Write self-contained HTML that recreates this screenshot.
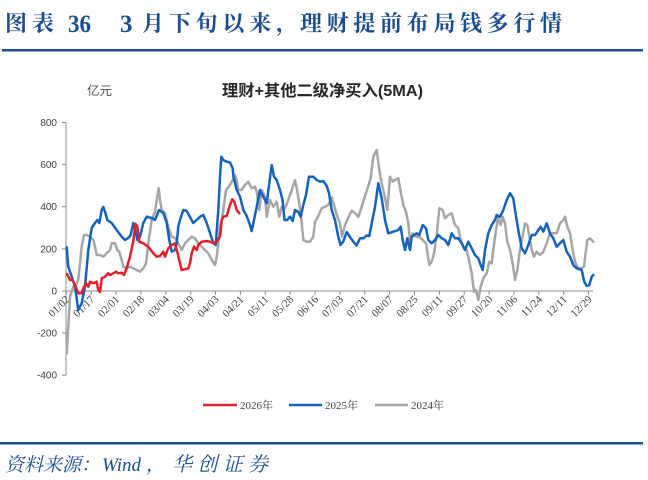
<!DOCTYPE html>
<html>
<head>
<meta charset="utf-8">
<style>
  html,body{margin:0;padding:0;background:#fff;}
  body{width:648px;height:480px;overflow:hidden;}
  svg{display:block;}
</style>
</head>
<body>
<svg width="648" height="480" viewBox="0 0 648 480" xmlns="http://www.w3.org/2000/svg">
  <rect x="0" y="0" width="648" height="480" fill="#ffffff"/>

  <!-- Title -->
  <g fill="#1b4d8e" font-weight="bold">
    <text x="5" y="31" font-size="22" font-family="'Noto Serif CJK SC','Liberation Serif',serif" textLength="49" lengthAdjust="spacing">图表</text>
    <text x="68" y="32" font-size="25" font-family="'Liberation Serif',serif" textLength="23" lengthAdjust="spacingAndGlyphs">36</text>
    <text x="120" y="32" font-size="25" font-family="'Liberation Serif',serif">3</text>
    <text x="142" y="31" font-size="22" font-family="'Noto Serif CJK SC','Liberation Serif',serif" textLength="156" lengthAdjust="spacing">月下旬以来，</text>
    <text x="300" y="31" font-size="22" font-family="'Noto Serif CJK SC','Liberation Serif',serif" textLength="262" lengthAdjust="spacing">理财提前布局钱多行情</text>
  </g>
  <rect x="2" y="49" width="641" height="2.5" fill="#1f4f8f"/>

  <!-- Chart header -->
  <text x="87" y="95" font-size="12.5" fill="#505050" font-family="'Liberation Sans','Noto Sans CJK SC',sans-serif">亿元</text>
  <text x="222" y="96" font-size="16" font-weight="bold" fill="#262626" font-family="'Liberation Sans','Noto Sans CJK SC',sans-serif" textLength="201" lengthAdjust="spacingAndGlyphs">理财+其他二级净买入(5MA)</text>

  <!-- Axes -->
  <g stroke="#8c8c8c" stroke-width="1" fill="none">
    <line x1="66" y1="122.5" x2="66" y2="375.2"/>
    <line x1="66" y1="291" x2="593" y2="291"/>
    <line x1="62" y1="122.5" x2="66" y2="122.5"/>
    <line x1="62" y1="164.6" x2="66" y2="164.6"/>
    <line x1="62" y1="206.7" x2="66" y2="206.7"/>
    <line x1="62" y1="248.9" x2="66" y2="248.9"/>
    <line x1="62" y1="291" x2="66" y2="291"/>
    <line x1="62" y1="333.1" x2="66" y2="333.1"/>
    <line x1="62" y1="375.2" x2="66" y2="375.2"/>
    <line x1="66.3" y1="291" x2="66.3" y2="295"/>
    <line x1="91.2" y1="291" x2="91.2" y2="295"/>
    <line x1="116.0" y1="291" x2="116.0" y2="295"/>
    <line x1="140.9" y1="291" x2="140.9" y2="295"/>
    <line x1="165.8" y1="291" x2="165.8" y2="295"/>
    <line x1="190.7" y1="291" x2="190.7" y2="295"/>
    <line x1="215.5" y1="291" x2="215.5" y2="295"/>
    <line x1="240.4" y1="291" x2="240.4" y2="295"/>
    <line x1="265.3" y1="291" x2="265.3" y2="295"/>
    <line x1="290.1" y1="291" x2="290.1" y2="295"/>
    <line x1="315.0" y1="291" x2="315.0" y2="295"/>
    <line x1="339.9" y1="291" x2="339.9" y2="295"/>
    <line x1="364.7" y1="291" x2="364.7" y2="295"/>
    <line x1="389.6" y1="291" x2="389.6" y2="295"/>
    <line x1="414.5" y1="291" x2="414.5" y2="295"/>
    <line x1="439.4" y1="291" x2="439.4" y2="295"/>
    <line x1="464.2" y1="291" x2="464.2" y2="295"/>
    <line x1="489.1" y1="291" x2="489.1" y2="295"/>
    <line x1="514.0" y1="291" x2="514.0" y2="295"/>
    <line x1="538.8" y1="291" x2="538.8" y2="295"/>
    <line x1="563.7" y1="291" x2="563.7" y2="295"/>
    <line x1="588.6" y1="291" x2="588.6" y2="295"/>
  </g>

  <!-- y labels -->
  <g font-family="'Liberation Sans',sans-serif" font-size="10" fill="#404040" text-anchor="end">
    <text x="57" y="126">800</text>
    <text x="57" y="168">600</text>
    <text x="57" y="210">400</text>
    <text x="57" y="252.5">200</text>
    <text x="57" y="294.5">0</text>
    <text x="57" y="336.5">-200</text>
    <text x="57" y="378.5">-400</text>
  </g>

  <!-- x labels -->
  <g font-family="'Liberation Serif',serif" font-size="11" fill="#404040" text-anchor="end">
    <text transform="translate(70.3,300) rotate(-45)">01/02</text>
    <text transform="translate(95.2,300) rotate(-45)">01/17</text>
    <text transform="translate(120.0,300) rotate(-45)">02/01</text>
    <text transform="translate(144.9,300) rotate(-45)">02/18</text>
    <text transform="translate(169.8,300) rotate(-45)">03/04</text>
    <text transform="translate(194.7,300) rotate(-45)">03/19</text>
    <text transform="translate(219.5,300) rotate(-45)">04/03</text>
    <text transform="translate(244.4,300) rotate(-45)">04/21</text>
    <text transform="translate(269.3,300) rotate(-45)">05/11</text>
    <text transform="translate(294.1,300) rotate(-45)">05/28</text>
    <text transform="translate(319.0,300) rotate(-45)">06/16</text>
    <text transform="translate(343.9,300) rotate(-45)">07/03</text>
    <text transform="translate(368.7,300) rotate(-45)">07/21</text>
    <text transform="translate(393.6,300) rotate(-45)">08/07</text>
    <text transform="translate(418.5,300) rotate(-45)">08/25</text>
    <text transform="translate(443.4,300) rotate(-45)">09/11</text>
    <text transform="translate(468.2,300) rotate(-45)">09/27</text>
    <text transform="translate(493.1,300) rotate(-45)">10/20</text>
    <text transform="translate(518.0,300) rotate(-45)">11/06</text>
    <text transform="translate(542.8,300) rotate(-45)">11/24</text>
    <text transform="translate(567.7,300) rotate(-45)">12/11</text>
    <text transform="translate(592.6,300) rotate(-45)">12/29</text>
  </g>

  <!-- Series: 2024 gray -->
  <polyline fill="none" stroke="#a6a6a6" stroke-width="2.5" stroke-linejoin="round" stroke-linecap="round" points="
66.7,353.3 68.3,326.7 70,296.7 73.3,286.7 76,285 78.3,280 80,263.3 81.7,246.7 84,235 86.7,235 90,236.7 93.3,240 95,246.7 96.7,255 100,255 103.3,256.7 106.7,253.3 110,250 111.7,243.3 115,243.3 117.3,250 119.3,251.7 121.7,260 123.3,266.7 126.7,268.3 130,266.7 133.3,268.3 136.7,270 140,271.7 143.3,268.3 146,263.3 148.3,243.3 151.7,220 155,211.7 157.3,196.7 158.7,188.3 160,200 161.7,210 165,213.3 168.3,226.7 171.7,236.7 175,238 178.3,243.3 181.7,250 185,243.3 188.3,240 191.7,236.7 195,238.3 198.3,243.3 201.7,246.7 205,250 208.3,253.3 211.7,260 215,265 216.7,256.7 218.3,243.3 220,226.7 221.7,220 223.3,210 226,190 230,185 232.7,180 235,175 236.7,180 238.3,190 241.7,190 245,185 248.3,181.7 251.7,188.3 255,186.7 256.7,191.7 259.3,210 261.7,190 265,196.7 266.7,216.7 270,200 273.3,206.7 276.7,201.7 279.3,216.7 281.7,206.7 285,208.3 288.3,200 291.7,190 295,180 296.7,188.3 299.3,203.3 301.7,222 303.3,240 306.7,241.7 310,241.7 313.3,236.7 315,222 318.3,216 321.7,208.3 325,206.7 328.3,205 331.7,197.5 334,205 336.7,215 340,223.3 342,236.7 345,225 348.3,217.5 351.7,210.5 355,213.3 358.3,216.7 361.7,206.7 365,196 368.3,186 370.7,178 373.3,156.7 376.7,150 379.3,170 381.7,183.3 385,198 387.3,210 390,176.7 392.7,181.7 395,180 398.3,178.3 400.7,191.7 403.3,205 406,211.7 408.3,223.3 410,241.7 412.7,233.3 416,236.7 419.3,236.7 422.7,240 426,243.3 429.3,265 431.7,261.7 434,253.3 436.7,235 439.3,208.3 442.7,210 445,218.3 448.3,215 451.7,213.3 455,225 458.3,228.3 460.7,240 463.3,246.7 466.7,250 469.3,261.7 471.7,273.3 474,291.7 476,290 478.3,300 480.7,286.7 483.3,278.3 486.7,273.3 489.3,261.7 491.7,263.3 493.3,250 496,230 498.3,216.7 500.7,225 502.7,216.7 505,223.3 507.3,241.7 510,250 512.7,263.3 515,280 517.3,270 520,250 522.7,236.7 525,223.3 527.3,225 529.3,236.7 531.7,250 534,256.7 536.7,251.7 540,255 543.3,251.7 546.7,243.3 550,233.3 553.3,233.3 556.7,233.3 560,223.3 563.3,220 565,216.7 567.3,226.7 570,233.3 572.7,250 575,261.7 578.3,268.3 581.7,268.3 584,266.7 586,250 587.3,240 590,238.3 593.3,241.7"/>

  <!-- Series: 2025 blue -->
  <polyline fill="none" stroke="#1562bd" stroke-width="2.5" stroke-linejoin="round" stroke-linecap="round" points="
66.7,247.3 68.3,266.7 71.7,276.7 75,286.7 78.3,310 81.7,303 85,286.7 88.3,250 91.7,228 95,223 97.3,220 99.3,223 101.7,210 103.3,207 105,211.7 107.3,220 111.7,223 116.7,230 121.7,236.7 125,240 128.3,238 130.7,235 133.3,223 136,233 137.3,240 140,236.7 143.3,223 146.7,216.7 151.7,218 155,220 159,210 163.3,213 166.7,223 169.3,240 171.7,251.7 175,250 176.7,243 178.3,226.7 180,220 183.3,210 186.7,211 190,217 193.3,223 196.7,220 200,216.7 203.3,215 206.7,223 210,233 213.3,243 215.7,245 218.3,210 220,176.7 221.3,156.7 223.3,160 226.7,161.7 230,162.5 232.7,168.3 233.5,176.7 236.7,190 240,196.7 243.3,210 246.7,216 250,225 251.7,231 254,220 256.7,206.7 260,190 263.3,196.7 266.7,203.3 269.3,183.3 271.7,165 274,176.7 276.7,180 280,190 282.5,200 284.5,220 287.3,220 290,216.7 292.7,221 295,210 298.3,212 300.7,216.7 303.3,205 306,195 309,176.7 313.3,176.7 316.7,180 320,181.7 323.3,181 326.7,186 329,193 331.7,210 335,220 338.3,236.7 340.5,245 343.3,241.7 346.7,232 350,237 353.3,241.7 356.7,245.5 360,238.3 363.3,238.3 366.7,235.5 369.3,236 371.7,223.3 375,207 378.3,183.3 381.7,198.3 385,220 388.3,233.3 393.3,231.7 398.3,230 400.7,226.7 402.7,240 405,250 407.3,238.3 410,250 411.7,236.7 414,235 416.7,233.3 419.3,235 422.7,225 426,228.3 428.3,240 431.7,243.3 435,240 438.3,235 441.7,238.3 445,240 448.3,245 451.7,233.3 455,238.3 458.3,238.3 461.7,243.3 465,250 468.3,241.7 471.7,248.3 475,255 478.3,258.3 480.7,265 482.7,270 485,250 488.3,233.3 491.7,225 495,220 496.7,215 500,216.7 501.7,213.3 503.3,210 506.7,200 510,193.3 513.3,198.3 515,210 518.3,230 521.7,248.3 525,253.3 528.3,245 531.7,235 535,235 538.3,230 540.7,226.7 543.3,231.7 546.7,223.3 550,233.3 553.3,238.3 556.7,246.7 560,243.3 563.3,240 566.7,251.7 570,256.7 573.3,265 576.7,268.3 581.7,270 584.3,281.7 586.7,286 589.3,285 591.7,276.7 593.3,275"/>

  <!-- Series: 2026 red -->
  <polyline fill="none" stroke="#e0202a" stroke-width="2.5" stroke-linejoin="round" stroke-linecap="round" points="
67,274 70,280 72.5,280 75,285 78.3,293.3 81.7,293.3 83.3,288.3 86,283.3 88.3,286.7 90,281.7 93.3,283.3 96.7,281.7 98.3,290 100,292 101.7,278.3 105,276.7 108.3,273.3 110,275 113.3,273.3 116,271.7 118.3,273.3 121.7,272.7 124,275 126.7,268 130,256.7 133.3,241 135.5,224 137.3,226 139.3,241.7 143.3,243.3 148.3,246.7 153.3,253.3 156.7,256.7 160,256 163.3,251.7 165,256.7 168.3,248.3 171.7,245 175,243.3 177.7,253.3 180,263.3 181.7,270 185,269.3 188.3,268.3 190,263.3 191.7,253.3 194,246.7 196.7,250 198.3,245 201.7,241.7 206.7,241 210,241.7 213.3,243.3 216.7,241.7 220,236.7 221.7,220 223.3,216.7 226.7,216 230,205 232.3,199.3 234.3,201.7 236.7,210 239.3,213.3"/>

  <!-- Legend -->
  <g stroke-width="2.5">
    <line x1="203" y1="405" x2="237" y2="405" stroke="#e0202a"/>
    <line x1="289" y1="405" x2="322" y2="405" stroke="#1562bd"/>
    <line x1="375" y1="405" x2="408" y2="405" stroke="#a6a6a6"/>
  </g>
  <g font-size="11" fill="#404040" font-family="'Liberation Serif','Noto Serif CJK SC',serif">
    <text x="240" y="409">2026年</text>
    <text x="325" y="409">2025年</text>
    <text x="411" y="409">2024年</text>
  </g>

  <!-- Bottom rule and source -->
  <rect x="0" y="442" width="643" height="2.5" fill="#1f4f8f"/>
  <g font-size="19" font-style="italic" fill="#1b4d8e" font-family="'Liberation Serif','Noto Serif CJK SC',serif">
    <text x="5" y="471" textLength="95" lengthAdjust="spacing">资料来源：</text>
    <text x="102" y="471">Wind</text>
    <text x="146" y="471">，</text>
    <text x="172" y="471" font-size="20" textLength="96" lengthAdjust="spacing">华创证券</text>
  </g>
</svg>
</body>
</html>
